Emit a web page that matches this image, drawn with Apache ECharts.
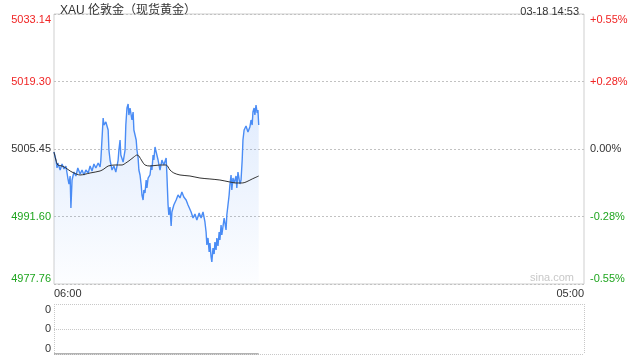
<!DOCTYPE html>
<html><head><meta charset="utf-8">
<script src="https://cdn.jsdelivr.net/npm/echarts@6/dist/echarts.min.js"></script>
<style>html,body{margin:0;padding:0;background:#fff}#c{width:640px;height:360px}</style>
</head><body><div id="c"></div>
<script>
const titleText = 'XAU 伦敦金（现货黄金）';
const stampText = '03-18 14:53';
const prevClose = 5005.45;
const yMin = 4977.76, yMax = 5033.14;
const priceTicks = ['4977.76','4991.60','5005.45','5019.30','5033.14'];
const pctTicks = ['-0.55%','-0.28%','0.00%','+0.28%','+0.55%'];
const volTicks = ['0','0','0'];
const axisStart = '06:00', axisEnd = '05:00';

const priceTimes = ['06:00','06:05','06:08','06:10','06:16','06:21','06:26','06:31','06:36','06:39','06:42','06:44','06:47','06:52','06:57','07:02','07:08','07:13','07:18','07:23','07:29','07:34','07:39','07:44','07:49','07:55','08:00','08:02','08:08','08:10','08:15','08:21','08:23','08:26','08:31','08:36','08:41','08:47','08:49','08:52','08:54','09:00','09:05','09:07','09:10','09:13','09:15','09:18','09:23','09:26','09:28','09:34','09:36','09:39','09:41','09:44','09:47','09:49','09:52','09:54','09:57','10:00','10:02','10:05','10:10','10:13','10:15','10:18','10:20','10:23','10:26','10:31','10:36','10:41','10:46','10:52','10:54','10:57','10:59','11:02','11:05','11:07','11:12','11:18','11:23','11:28','11:33','11:38','11:44','11:49','11:54','11:57','12:02','12:07','12:12','12:18','12:23','12:28','12:33','12:36','12:38','12:41','12:44','12:46','12:49','12:51','12:54','12:57','12:59','13:02','13:04','13:07','13:10','13:12','13:15','13:17','13:23','13:28','13:30','13:33','13:36','13:38','13:41','13:43','13:46','13:49','13:54','13:56','13:59','14:04','14:07','14:10','14:12','14:15','14:20','14:25','14:30','14:33','14:36','14:38','14:41','14:43','14:46','14:49','14:51','14:53'];
const prices = [5004.83,5003.19,5001.55,5002.58,5001.14,5002.37,5001.35,5001.96,4999.50,4998.27,4999.91,4993.35,4999.09,5000.73,4999.91,5001.55,5000.32,5001.14,5000.12,5001.14,5000.53,5001.96,5000.94,5002.37,5001.55,5002.58,5001.76,5003.19,5011.81,5010.37,5010.99,5009.35,5005.24,5003.19,5001.14,5001.96,5000.73,5003.19,5005.24,5007.30,5004.22,5002.78,5005.24,5010.37,5013.86,5014.68,5012.42,5013.86,5011.40,5013.04,5009.35,5007.30,5005.24,5003.60,5001.14,5000.12,4998.07,4996.02,4994.99,4997.04,4996.42,4999.09,4997.45,4999.50,5000.12,5002.17,5001.14,5004.22,5003.19,5005.86,5004.83,5003.19,5001.14,5003.19,5002.17,5003.60,5000.12,4993.96,4991.91,4993.55,4989.66,4992.53,4993.96,4994.99,4996.02,4995.40,4996.63,4995.61,4994.99,4993.96,4994.37,4992.53,4991.30,4992.12,4990.89,4992.32,4991.30,4992.53,4990.48,4988.43,4985.76,4987.20,4984.32,4986.17,4983.30,4982.27,4985.14,4983.91,4986.37,4984.73,4987.20,4985.55,4988.43,4986.78,4989.86,4987.81,4991.30,4988.84,4991.91,4993.96,4996.02,4998.07,5000.12,4997.04,4999.50,4998.48,4999.91,4997.45,5000.73,4998.27,4999.09,5003.19,5007.30,5009.35,5010.17,5008.94,5009.96,5011.40,5010.37,5013.04,5013.86,5012.42,5014.47,5012.83,5013.45,5010.37];

const avgTimes = ['06:00','06:05','06:10','06:21','06:31','06:42','06:52','07:08','07:34','08:00','08:10','08:21','08:39','08:57','09:07','09:18','09:28','09:36','09:41','09:49','09:57','10:10','10:36','10:52','11:02','11:12','11:28','11:54','12:20','12:46','13:12','13:38','13:54','14:10','14:20','14:36','14:53'];
const avgPrices = [5004.83,5003.19,5002.17,5001.96,5001.55,5000.94,5000.53,5000.12,5000.53,5000.94,5001.35,5001.96,5002.17,5002.17,5002.58,5003.19,5003.81,5004.22,5004.01,5002.99,5002.17,5001.96,5002.17,5002.17,5001.14,5000.53,5000.12,4999.91,4999.50,4999.30,4999.09,4998.68,4998.48,4998.48,4998.68,4999.30,4999.91];

const volTimes = ['06:00','14:53'];
const volumes = [0, 0];

function toMin(t) {
  const [h, m] = t.split(':').map(Number);
  let v = h * 60 + m - 360;
  if (v < 0) v += 1440;
  return v;
}
const xMax = toMin(axisEnd);
const pairs = (ts, vs) => ts.map((t, i) => [toMin(t), vs[i]]);

const FONT = '"Liberation Sans", Arial, "Noto Sans CJK SC", sans-serif';
const RED = '#f02424', GREEN = '#1fa51f', DARK = '#333';
const tickColor = i => (i < 2 ? GREEN : i > 2 ? RED : DARK);
const interval = (yMax - yMin) / 4;

const chart = echarts.init(document.getElementById('c'), null, { renderer: 'canvas' });
chart.setOption({
  animation: false,
  backgroundColor: '#fff',
  textStyle: { fontFamily: FONT },
  title: [
    { text: titleText, left: 55, top: 0, textStyle: { fontSize: 12, fontWeight: 'normal', color: DARK, fontFamily: FONT } },
    { text: stampText, right: 56, top: 1, textStyle: { fontSize: 11, fontWeight: 'normal', color: DARK, fontFamily: FONT } }
  ],
  graphic: [
    { type: 'text', right: 66, top: 272, style: { text: 'sina.com', fill: '#c8c8c8', fontSize: 11, fontFamily: FONT } }
  ],
  grid: [
    { left: 54, right: 56, top: 14, height: 270, show: true, borderColor: '#cfcfcf', borderWidth: 1 },
    { left: 54, right: 56, top: 304, height: 50, show: false }
  ],
  xAxis: [
    {
      gridIndex: 0, type: 'value', min: 0, max: xMax, interval: xMax,
      axisLine: { show: false }, axisTick: { show: false }, splitLine: { show: false },
      axisLabel: {
        show: true, fontSize: 11, color: DARK, margin: 4,
        alignMinLabel: 'left', alignMaxLabel: 'right',
        formatter: v => (v === 0 ? axisStart : v === xMax ? axisEnd : '')
      }
    },
    {
      gridIndex: 1, type: 'value', min: 0, max: xMax, interval: xMax,
      axisLine: { show: false }, axisTick: { show: false }, axisLabel: { show: false },
      splitLine: { show: true, lineStyle: { color: '#c8c8c8', type: [1, 1], width: 1 } }
    }
  ],
  yAxis: [
    {
      gridIndex: 0, type: 'value', min: yMin, max: yMax, interval: interval,
      axisLine: { show: false }, axisTick: { show: false },
      splitLine: { show: true, lineStyle: { color: '#c2c2c2', type: [2, 2], width: 1 } },
      axisLabel: {
        fontSize: 11, margin: 3,
        verticalAlignMinLabel: 'bottom', verticalAlignMaxLabel: 'top',
        formatter: (v, i) => priceTicks[i],
        color: (v, i) => tickColor(i)
      }
    },
    {
      gridIndex: 0, type: 'value', position: 'right', min: yMin, max: yMax, interval: interval,
      axisLine: { show: false }, axisTick: { show: false }, splitLine: { show: false },
      axisLabel: {
        fontSize: 11, margin: 6,
        verticalAlignMinLabel: 'bottom', verticalAlignMaxLabel: 'top',
        formatter: (v, i) => pctTicks[i],
        color: (v, i) => tickColor(i)
      }
    },
    {
      gridIndex: 1, type: 'value', min: 0, max: 2, interval: 1,
      axisLine: { show: false }, axisTick: { show: false },
      splitLine: { show: true, lineStyle: { color: '#c8c8c8', type: [1, 1], width: 1 } },
      axisLabel: {
        fontSize: 11, margin: 3, color: DARK,
        verticalAlignMinLabel: 'bottom', verticalAlignMaxLabel: 'top',
        formatter: (v, i) => volTicks[i]
      }
    }
  ],
  series: [
    {
      type: 'line', xAxisIndex: 0, yAxisIndex: 0, data: pairs(priceTimes, prices),
      showSymbol: false, symbol: 'none',
      lineStyle: { color: '#4a8cf5', width: 1.4 },
      areaStyle: {
        origin: 'start',
        color: new echarts.graphic.LinearGradient(0, 0, 0, 1, [
          { offset: 0, color: 'rgba(74,140,245,0.24)' },
          { offset: 1, color: 'rgba(74,140,245,0.02)' }
        ])
      },
      z: 3
    },
    {
      type: 'line', xAxisIndex: 0, yAxisIndex: 0, data: pairs(avgTimes, avgPrices),
      showSymbol: false, symbol: 'none', smooth: 0.3,
      lineStyle: { color: '#333', width: 1 }, z: 4
    },
    {
      type: 'line', xAxisIndex: 1, yAxisIndex: 2, data: pairs(volTimes, volumes),
      showSymbol: false, symbol: 'none',
      lineStyle: { color: '#666', width: 1 }, z: 4
    }
  ]
});
</script>
</body></html>
